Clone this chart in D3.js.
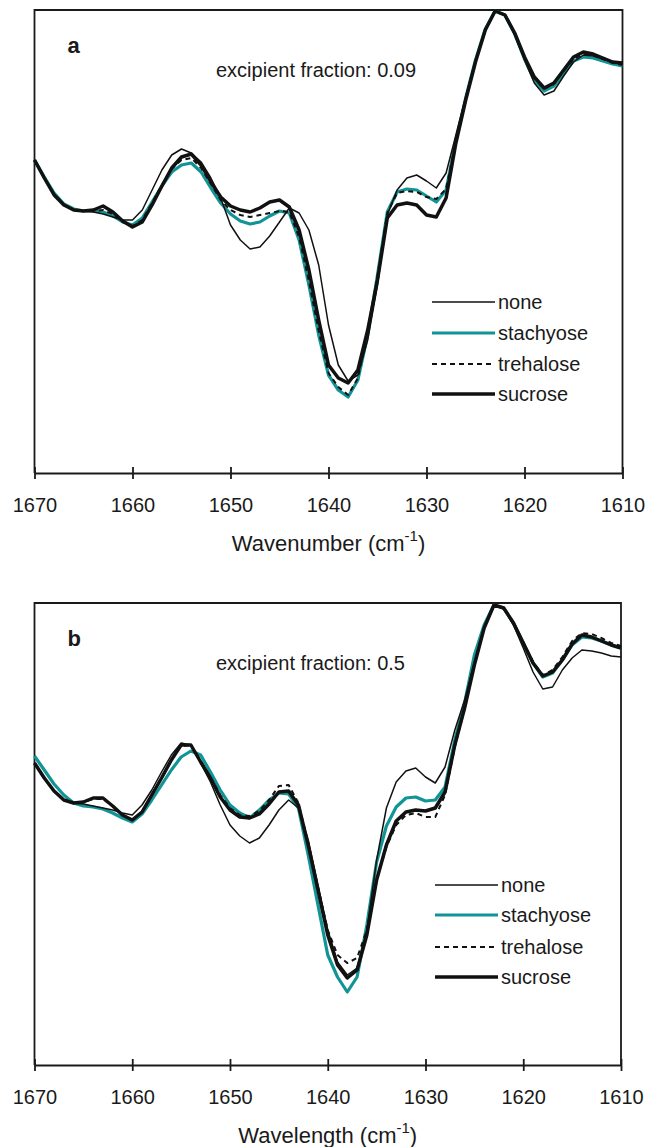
<!DOCTYPE html>
<html>
<head>
<meta charset="utf-8">
<script src="https://cdn.jsdelivr.net/npm/d3@7"></script>
<style>
  body { margin: 0; background: #fff; }
  text { font-family: "Liberation Sans", Arial, sans-serif; fill: #1a1a1a; }
</style>
</head>
<body>
<div id="chart"></div>
<script>
// Wavenumber grid (cm-1), one point per wavenumber from 1670 down to 1610
const wavenumbers = d3.range(1670, 1609, -1);
const tickValues = [1670, 1660, 1650, 1640, 1630, 1620, 1610];
const seriesNames = ["none", "stachyose", "trehalose", "sucrose"];

// Panel a, excipient fraction 0.09 (relative intensity, arbitrary units)
const noneA = [313,296,279,268,263,262,261,259,256,253,253,263,283,303,318,324,320,311,295,275,
  248,233,224,226,237,251,265,260,243,208,148,108,92,98,133,188,258,283,295,298,
  292,285,300,338,376,413,444,462,458,438,413,390,378,382,397,411,418,417,414,411,410];
const stachyoseA = [313,296,280,269,264,262,262,261,257,251,248,255,271,287,301,308,310,301,285,270,
  259,252,249,251,257,262,260,233,188,138,98,83,76,93,138,198,261,281,284,283,
  277,271,283,333,375,413,444,462,458,439,414,393,382,387,400,412,416,415,412,409,407];
const trehaloseA = [313,295,279,268,263,262,262,263,259,251,247,253,270,288,304,313,315,305,289,273,
  263,258,256,258,260,262,261,236,192,142,100,86,78,95,140,197,260,280,282,281,
  276,274,284,332,374,412,443,462,458,440,415,395,384,389,402,414,419,418,414,410,408];
const sucroseA = [313,295,278,268,263,262,263,267,261,252,246,251,268,287,305,316,319,308,291,276,
  267,263,261,265,271,273,266,243,203,153,108,95,90,103,143,193,255,268,270,268,
  258,256,275,330,373,411,443,462,458,440,416,396,385,390,403,416,421,419,415,411,410];

// Panel b, excipient fraction 0.5
const noneB = [302,287,274,265,262,261,259,257,255,252,250,260,275,293,310,322,320,302,283,260,
  240,229,222,227,240,255,265,257,225,180,135,103,90,97,135,205,257,283,294,297,
  288,282,298,335,365,403,437,460,456,440,417,393,376,378,395,407,415,414,412,409,408];
const stachyoseB = [309,295,281,270,262,259,258,256,252,247,243,251,265,280,295,308,314,310,293,275,
  260,252,247,255,265,272,271,257,210,160,110,88,73,88,140,203,239,258,267,268,
  264,265,278,325,362,410,440,460,457,442,422,402,388,392,405,420,428,427,424,420,417];
const trehaloseB = [302,287,274,265,262,263,266,266,259,250,245,253,270,287,305,319,320,304,288,270,
  257,250,249,254,265,279,280,262,222,178,135,110,102,107,135,185,218,240,250,252,
  248,248,270,318,356,400,437,460,457,442,423,403,390,395,408,424,432,431,427,422,419];
const sucroseB = [302,287,274,265,262,263,267,267,259,250,245,253,270,287,305,320,320,303,287,268,
  255,248,247,251,261,273,274,260,220,175,130,100,87,95,130,185,220,244,253,255,
  254,257,273,320,357,400,437,460,457,442,422,402,389,393,405,421,430,428,424,420,417];

const panels = [
  {letter: "a", note: "excipient fraction: 0.09", xTitle: "Wavenumber (cm", top: 10, bottom: 473, right: 622.5,
   legendX: 432, legendY: [302, 333, 364, 394], series: [noneA, stachyoseA, trehaloseA, sucroseA]},
  {letter: "b", note: "excipient fraction: 0.5", xTitle: "Wavelength (cm", top: 603, bottom: 1065, right: 621,
   legendX: 435, legendY: [885, 915, 947, 977], series: [noneB, stachyoseB, trehaloseB, sucroseB]}
];

const styles = {
  none:      {stroke: "#111", width: 1.5, dash: null},
  stachyose: {stroke: "#119496", width: 3.2, dash: null},
  trehalose: {stroke: "#111", width: 2, dash: "5,4"},
  sucrose:   {stroke: "#111", width: 3.5, dash: null}
};
const drawOrder = ["stachyose", "none", "trehalose", "sucrose"];

const width = 659, height = 1147, left = 34.5;

const svg = d3.select("#chart")
  .append("svg")
  .attr("width", width)
  .attr("height", height);

panels.forEach(p => {
  const x = d3.scaleLinear().domain([1670, 1610]).range([left, p.right]);
  const y = d3.scaleLinear().domain([0, p.bottom - p.top]).range([p.bottom, p.top]);

  const g = svg.append("g");

  // frame: left, top and right sides (bottom comes from the axis)
  g.append("path")
    .attr("d", `M${left},${p.bottom}V${p.top}H${p.right}V${p.bottom}`)
    .attr("fill", "none")
    .attr("stroke", "#1a1a1a")
    .attr("stroke-width", 1.8);

  // curves
  const line = d3.line()
    .x((d, i) => x(wavenumbers[i]))
    .y(d => y(d));

  drawOrder.forEach(name => {
    const s = styles[name];
    g.append("path")
      .datum(p.series[seriesNames.indexOf(name)])
      .attr("d", line)
      .attr("fill", "none")
      .attr("stroke", s.stroke)
      .attr("stroke-width", s.width)
      .attr("stroke-linejoin", "round")
      .attr("stroke-dasharray", s.dash);
  });

  // x axis with ticks crossing the line
  const axis = g.append("g")
    .attr("transform", `translate(0,${p.bottom})`)
    .call(d3.axisBottom(x).tickValues(tickValues).tickFormat(d3.format("d"))
      .tickSizeInner(6).tickSizeOuter(0).tickPadding(19));
  axis.select(".domain").attr("stroke", "#1a1a1a").attr("stroke-width", 1.8);
  axis.selectAll(".tick line").attr("y1", -6).attr("y2", 6)
    .attr("stroke", "#1a1a1a").attr("stroke-width", 1.8);
  axis.selectAll(".tick text")
    .style("font-family", "'Liberation Sans', Arial, sans-serif")
    .style("font-size", "20px").attr("fill", "#1a1a1a");

  // axis title with superscript
  const title = g.append("text")
    .attr("x", (left + p.right) / 2)
    .attr("y", p.bottom + 78)
    .attr("text-anchor", "middle")
    .style("font-size", "22px");
  title.append("tspan").text(p.xTitle);
  title.append("tspan").attr("dy", -10).style("font-size", "15px").text("-1");
  title.append("tspan").attr("dy", 10).text(")");

  // panel letter and note
  g.append("text")
    .attr("x", left + 33)
    .attr("y", p.top + 43)
    .style("font-size", "22px")
    .style("font-weight", "bold")
    .text(p.letter);
  g.append("text")
    .attr("x", 216)
    .attr("y", p.top + 67)
    .style("font-size", "20px")
    .text(p.note);

  // legend
  seriesNames.forEach((name, i) => {
    const s = styles[name];
    const ly = p.legendY[i];
    g.append("line")
      .attr("x1", p.legendX).attr("x2", p.legendX + 63)
      .attr("y1", ly).attr("y2", ly)
      .attr("stroke", s.stroke)
      .attr("stroke-width", s.width)
      .attr("stroke-dasharray", s.dash);
    g.append("text")
      .attr("x", p.legendX + 66)
      .attr("y", ly + 7)
      .style("font-size", "20px")
      .text(name);
  });
});
</script>
</body>
</html>
